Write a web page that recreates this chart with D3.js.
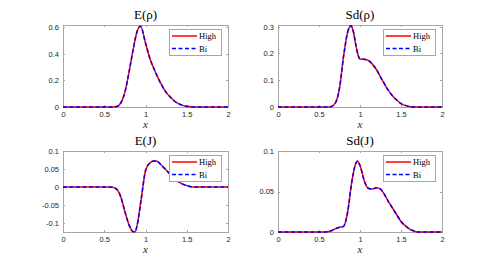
<!DOCTYPE html>
<html>
<head>
<meta charset="utf-8">
<script src="https://cdn.jsdelivr.net/npm/d3@7"></script>
<style>
  body { margin: 0; background: #fff; }
  svg { display: block; }
</style>
</head>
<body>
<script>
// Data (x positions and values; High and Bi overlap)
const xTicks = [0, 0.5, 1, 1.5, 2];
const seriesNames = ["High", "Bi"];

const xERho = [0, 0.6, 0.65, 0.7, 0.75, 0.8, 0.85, 0.9, 0.94, 1.0, 1.05, 1.1, 1.15, 1.2, 1.25, 1.3, 1.35, 1.4, 1.45, 1.5, 1.55, 1.6, 2];
const eRho = [0, 0, 0.003, 0.03, 0.11, 0.26, 0.43, 0.57, 0.605, 0.48, 0.37, 0.29, 0.22, 0.16, 0.11, 0.075, 0.045, 0.025, 0.012, 0.005, 0.001, 0, 0];

const xSdRho = [0, 0.6, 0.65, 0.7, 0.75, 0.8, 0.85, 0.89, 0.92, 0.95, 0.98, 1.0, 1.05, 1.1, 1.15, 1.2, 1.25, 1.3, 1.35, 1.4, 1.45, 1.5, 1.55, 1.6, 1.65, 2];
const sdRho = [0, 0, 0.002, 0.015, 0.07, 0.19, 0.28, 0.303, 0.28, 0.23, 0.19, 0.179, 0.178, 0.174, 0.16, 0.14, 0.112, 0.085, 0.06, 0.04, 0.025, 0.013, 0.006, 0.002, 0, 0];

const xEJ = [0, 0.55, 0.6, 0.65, 0.7, 0.75, 0.8, 0.85, 0.875, 0.9, 0.95, 1.0, 1.05, 1.1, 1.13, 1.2, 1.25, 1.3, 1.35, 1.4, 1.45, 1.5, 1.55, 1.6, 2];
const eJ = [0, 0, -0.001, -0.006, -0.027, -0.068, -0.105, -0.124, -0.124, -0.105, -0.03, 0.045, 0.066, 0.072, 0.072, 0.059, 0.047, 0.035, 0.024, 0.015, 0.008, 0.004, 0.001, 0, 0];

const xSdJ = [0, 0.55, 0.6, 0.65, 0.7, 0.75, 0.8, 0.85, 0.9, 0.95, 0.97, 1.0, 1.05, 1.1, 1.15, 1.2, 1.25, 1.3, 1.35, 1.4, 1.45, 1.5, 1.55, 1.6, 1.65, 1.7, 2];
const sdJ = [0, 0, 0.0003, 0.0015, 0.004, 0.0058, 0.007, 0.025, 0.062, 0.085, 0.0877, 0.082, 0.064, 0.054, 0.053, 0.0547, 0.053, 0.046, 0.037, 0.029, 0.021, 0.013, 0.008, 0.004, 0.0015, 0, 0];

// panel setup
const panels = [
  { title: "E(ρ)", xs: xERho, ys: eRho, yDomain: [0, 0.615], yTicks: [0, 0.2, 0.4, 0.6], left: 63, right: 228, top: 25, bottom: 107 },
  { title: "Sd(ρ)", xs: xSdRho, ys: sdRho, yDomain: [0, 0.306], yTicks: [0, 0.1, 0.2, 0.3], left: 278, right: 442, top: 25, bottom: 107 },
  { title: "E(J)", xs: xEJ, ys: eJ, yDomain: [-0.125, 0.1], yTicks: [-0.1, -0.05, 0, 0.05, 0.1], left: 63, right: 228, top: 151, bottom: 232 },
  { title: "Sd(J)", xs: xSdJ, ys: sdJ, yDomain: [0, 0.1], yTicks: [0, 0.05, 0.1], left: 278, right: 442, top: 151, bottom: 232 }
];

const colors = ["#ff0000", "#0000ff"];
const axisColor = "#a6a6a6";
const textColor = "#262626";

const svg = d3
  .select("body")
  .append("svg")
  .attr("width", 488)
  .attr("height", 265);

panels.forEach((p) => {
  const w = p.right - p.left;
  const h = p.bottom - p.top;

  const g = svg
    .append("g")
    .attr("transform", "translate(" + p.left + "," + p.top + ")");

  const xScale = d3.scaleLinear().domain([0, 2]).range([0, w]);
  const yScale = d3.scaleLinear().domain(p.yDomain).range([h, 0]);

  // axes with inward ticks, box on all sides
  const fmt = (d) => String(+d.toFixed(2));
  const xAxis = g
    .append("g")
    .attr("transform", "translate(0," + h + ")")
    .call(d3.axisBottom(xScale).tickValues(xTicks).tickSize(-2).tickPadding(5).tickFormat(fmt));
  const yAxis = g
    .append("g")
    .call(d3.axisLeft(yScale).tickValues(p.yTicks).tickSize(-2).tickPadding(4).tickFormat(fmt));
  g.append("g")
    .call(d3.axisTop(xScale).tickValues(xTicks).tickSize(-2).tickFormat(""));
  g.append("g")
    .attr("transform", "translate(" + w + ",0)")
    .call(d3.axisRight(yScale).tickValues(p.yTicks).tickSize(-2).tickFormat(""));

  g.selectAll(".domain, .tick line")
    .attr("stroke", axisColor)
    .attr("shape-rendering", "crispEdges");
  g.selectAll(".tick text")
    .attr("fill", textColor)
    .style("font-family", "'Liberation Sans', Arial, sans-serif")
    .style("font-size", "7.5px");

  // lines: High solid red, Bi dashed blue on top
  const points = p.xs.map((x, i) => [x, p.ys[i]]);
  const line = d3
    .line()
    .x((d) => xScale(d[0]))
    .y((d) => yScale(d[1]))
    .curve(d3.curveMonotoneX);

  seriesNames.forEach((name, i) => {
    g.append("path")
      .datum(points)
      .attr("fill", "none")
      .attr("stroke", colors[i])
      .attr("stroke-width", 1.5)
      .attr("stroke-dasharray", i === 1 ? "4,2.5" : null)
      .attr("d", line);
  });

  // title
  svg
    .append("text")
    .attr("x", (p.left + p.right) / 2)
    .attr("y", p.top - 6)
    .attr("text-anchor", "middle")
    .style("font-family", "'Liberation Serif', 'Times New Roman', serif")
    .style("font-size", "13px")
    .attr("fill", "#000")
    .text(p.title);

  // x label
  svg
    .append("text")
    .attr("x", (p.left + p.right) / 2)
    .attr("y", p.bottom + 21)
    .attr("text-anchor", "middle")
    .style("font-family", "'Liberation Serif', 'Times New Roman', serif")
    .style("font-style", "italic")
    .style("font-size", "11px")
    .attr("fill", textColor)
    .text("x");

  // legend
  const legend = g
    .append("g")
    .attr("transform", "translate(" + (w - 59) + ",4)");
  legend
    .append("rect")
    .attr("width", 52)
    .attr("height", 26)
    .attr("fill", "#fff")
    .attr("stroke", axisColor)
    .attr("shape-rendering", "crispEdges");
  seriesNames.forEach((name, i) => {
    const y = 7 + i * 12.5;
    legend
      .append("line")
      .attr("x1", 3)
      .attr("x2", 28)
      .attr("y1", y)
      .attr("y2", y)
      .attr("stroke", colors[i])
      .attr("stroke-width", 1.5)
      .attr("stroke-dasharray", i === 1 ? "4,2.5" : null);
    legend
      .append("text")
      .attr("x", 30)
      .attr("y", y + 3)
      .style("font-family", "'Liberation Serif', 'Times New Roman', serif")
      .style("font-size", "8.5px")
      .attr("fill", "#000")
      .text(name);
  });
});
</script>
</body>
</html>
